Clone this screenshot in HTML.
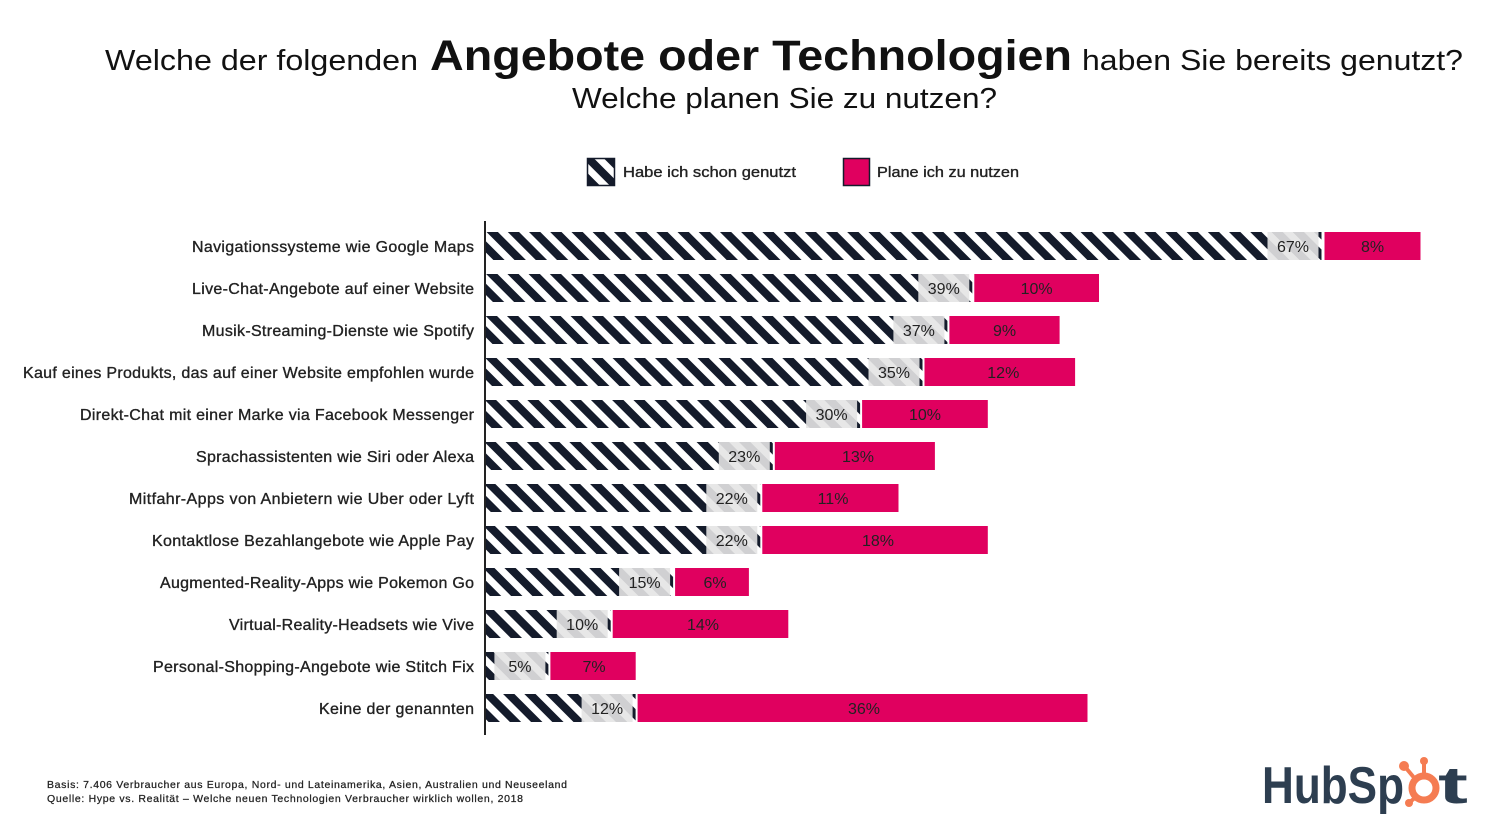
<!DOCTYPE html>
<html><head><meta charset="utf-8"><style>
html,body{margin:0;padding:0;background:#fff;}
svg{display:block;font-family:"Liberation Sans",sans-serif;}
</style></head><body>
<svg width="1500" height="836" viewBox="0 0 1500 836" xmlns="http://www.w3.org/2000/svg">
<defs>
<pattern id="st" width="15" height="15" patternUnits="userSpaceOnUse" patternTransform="rotate(-45)">
<rect width="15" height="15" fill="#fff"/>
<rect width="8" height="15" fill="#141b2b"/>
</pattern>
</defs>
<g fill="#111">
<text x="105" y="70" font-size="29" textLength="313" lengthAdjust="spacingAndGlyphs">Welche der folgenden</text>
<text x="430" y="70" font-size="43" font-weight="bold" textLength="642" lengthAdjust="spacingAndGlyphs">Angebote oder Technologien</text>
<text x="1082" y="70" font-size="29" textLength="381" lengthAdjust="spacingAndGlyphs">haben Sie bereits genutzt?</text>
<text x="572" y="108" font-size="29" textLength="425" lengthAdjust="spacingAndGlyphs">Welche planen Sie zu nutzen?</text>
</g>
<rect x="587.5" y="158.5" width="27" height="27" fill="url(#st)" stroke="#141b2b" stroke-width="1.5"/>
<text x="623" y="177" font-size="15" fill="#222" stroke="#222" stroke-width="0.35" textLength="173" lengthAdjust="spacingAndGlyphs">Habe ich schon genutzt</text>
<rect x="843.5" y="158.5" width="26" height="27" fill="#e0005f" stroke="#141b2b" stroke-width="1.5"/>
<text x="877" y="177" font-size="15" fill="#222" stroke="#222" stroke-width="0.35" textLength="142" lengthAdjust="spacingAndGlyphs">Plane ich zu nutzen</text>

<g font-size="16" fill="#222" stroke="#222" stroke-width="0.35" lengthAdjust="spacingAndGlyphs">
<text x="192" y="252" textLength="282">Navigationssysteme wie Google Maps</text>
<text x="192" y="294" textLength="282">Live-Chat-Angebote auf einer Website</text>
<text x="202" y="336" textLength="272">Musik-Streaming-Dienste wie Spotify</text>
<text x="23" y="378" textLength="451">Kauf eines Produkts, das auf einer Website empfohlen wurde</text>
<text x="80" y="420" textLength="394">Direkt-Chat mit einer Marke via Facebook Messenger</text>
<text x="196" y="462" textLength="278">Sprachassistenten wie Siri oder Alexa</text>
<text x="129" y="504" textLength="345">Mitfahr-Apps von Anbietern wie Uber oder Lyft</text>
<text x="152" y="546" textLength="322">Kontaktlose Bezahlangebote wie Apple Pay</text>
<text x="160" y="588" textLength="314">Augmented-Reality-Apps wie Pokemon Go</text>
<text x="229" y="630" textLength="245">Virtual-Reality-Headsets wie Vive</text>
<text x="153" y="672" textLength="321">Personal-Shopping-Angebote wie Stitch Fix</text>
<text x="319" y="714" textLength="155">Keine der genannten</text>
</g>

<g fill="url(#st)">
<rect x="486" y="232" width="835.5" height="28"/>
<rect x="486" y="274" width="486.3" height="28"/>
<rect x="486" y="316" width="461.4" height="28"/>
<rect x="486" y="358" width="436.5" height="28"/>
<rect x="486" y="400" width="374.1" height="28"/>
<rect x="486" y="442" width="286.8" height="28"/>
<rect x="486" y="484" width="274.3" height="28"/>
<rect x="486" y="526" width="274.3" height="28"/>
<rect x="486" y="568" width="187.1" height="28"/>
<rect x="486" y="610" width="124.7" height="28"/>
<rect x="486" y="652" width="62.4" height="28"/>
<rect x="486" y="694" width="149.6" height="28"/>
</g>
<g fill="#e4e4e4" fill-opacity="0.9">
<rect x="1267.5" y="232" width="51" height="28"/>
<rect x="918.3" y="274" width="51" height="28"/>
<rect x="893.4" y="316" width="51" height="28"/>
<rect x="868.5" y="358" width="51" height="28"/>
<rect x="806.1" y="400" width="51" height="28"/>
<rect x="718.8" y="442" width="51" height="28"/>
<rect x="706.3" y="484" width="51" height="28"/>
<rect x="706.3" y="526" width="51" height="28"/>
<rect x="619.1" y="568" width="51" height="28"/>
<rect x="556.7" y="610" width="51" height="28"/>
<rect x="494.4" y="652" width="51" height="28"/>
<rect x="581.6" y="694" width="51" height="28"/>
</g>
<g fill="#e0005f">
<rect x="1324.5" y="232" width="96" height="28"/>
<rect x="974.3" y="274" width="124.7" height="28"/>
<rect x="949.4" y="316" width="110.2" height="28"/>
<rect x="924.5" y="358" width="150.6" height="28"/>
<rect x="862.1" y="400" width="125.7" height="28"/>
<rect x="774.8" y="442" width="160.1" height="28"/>
<rect x="762.3" y="484" width="136.2" height="28"/>
<rect x="762.3" y="526" width="225.5" height="28"/>
<rect x="675.1" y="568" width="73.8" height="28"/>
<rect x="612.7" y="610" width="175.6" height="28"/>
<rect x="550.4" y="652" width="85.3" height="28"/>
<rect x="637.6" y="694" width="449.9" height="28"/>
</g>
<rect x="484" y="221" width="2" height="514" fill="#222"/>
<g font-size="16" fill="#222" text-anchor="middle">
<text x="1293" y="252">67%</text><text x="1372.5" y="252">8%</text>
<text x="943.8" y="294">39%</text><text x="1036.6" y="294">10%</text>
<text x="918.9" y="336">37%</text><text x="1004.5" y="336">9%</text>
<text x="894" y="378">35%</text><text x="1003.3" y="378">12%</text>
<text x="831.6" y="420">30%</text><text x="925" y="420">10%</text>
<text x="744.3" y="462">23%</text><text x="858" y="462">13%</text>
<text x="731.8" y="504">22%</text><text x="833" y="504">11%</text>
<text x="731.8" y="546">22%</text><text x="878" y="546">18%</text>
<text x="644.6" y="588">15%</text><text x="715" y="588">6%</text>
<text x="582.2" y="630">10%</text><text x="703" y="630">14%</text>
<text x="519.9" y="672">5%</text><text x="594" y="672">7%</text>
<text x="607.1" y="714">12%</text><text x="864" y="714">36%</text>
</g>
<g font-size="10.5" fill="#222" stroke="#222" stroke-width="0.25" lengthAdjust="spacingAndGlyphs">
<text x="47" y="788" textLength="520">Basis: 7.406 Verbraucher aus Europa, Nord- und Lateinamerika, Asien, Australien und Neuseeland</text>
<text x="47" y="802" textLength="476">Quelle: Hype vs. Realität – Welche neuen Technologien Verbraucher wirklich wollen, 2018</text>
</g>
<text x="1262" y="803" font-size="52" font-weight="bold" fill="#2d3e50" textLength="142" lengthAdjust="spacingAndGlyphs">HubSp</text>
<circle cx="1424" cy="788" r="12" fill="none" stroke="#f57c52" stroke-width="7"/>
<line x1="1424" y1="776" x2="1424" y2="764" stroke="#f57c52" stroke-width="4"/>
<circle cx="1424" cy="761" r="4" fill="#f57c52"/>
<line x1="1416" y1="780" x2="1406" y2="768" stroke="#f57c52" stroke-width="4"/>
<circle cx="1404" cy="766" r="5" fill="#f57c52"/>
<line x1="1417" y1="796" x2="1410" y2="802" stroke="#f57c52" stroke-width="4"/>
<circle cx="1409" cy="803" r="4" fill="#f57c52"/>
<text x="1438" y="803" font-size="52" font-weight="bold" fill="#2d3e50" textLength="30" lengthAdjust="spacingAndGlyphs">t</text>
</svg>
</body></html>
